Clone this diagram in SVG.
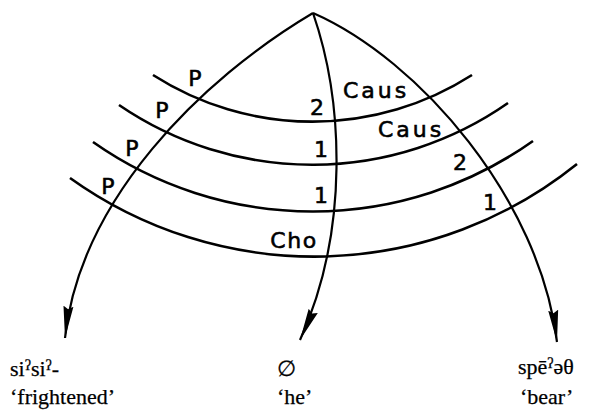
<svg xmlns="http://www.w3.org/2000/svg" width="590" height="410" viewBox="0 0 590 410">
<style>
.ln{fill:none;stroke:#000;stroke-width:2.2}
.arc{fill:none;stroke:#000;stroke-width:2.6}
.lab{font-family:"DejaVu Sans","Liberation Sans",sans-serif;font-size:22px;fill:#000;stroke:#000;stroke-width:0.6;text-anchor:middle}
.gl{font-family:"Liberation Serif","DejaVu Serif",serif;font-size:22px;fill:#000;stroke:#000;stroke-width:0.25}
.sup{font-size:14px;baseline-shift:45%}
</style>
<defs>
<marker id="ah" markerUnits="userSpaceOnUse" markerWidth="34" markerHeight="12" viewBox="0 -6 34 12" refX="32" refY="0" orient="auto">
<path d="M0,-5 L32,0 L0,5 L3,0 z" fill="#000"/>
</marker>
</defs>
<g id="connectors">
<path class="ln" d="M313,13 C200,80 80,200 65,338" marker-end="url(#ah)"/>
<path class="ln" d="M313,13 C343,100 350,230 300,340" marker-end="url(#ah)"/>
<path class="ln" d="M313,13 C420,60 540,200 557,342" marker-end="url(#ah)"/>
<path class="arc" d="M153,75 A296,296 0 0 0 472,75"/>
<path class="arc" d="M119,105 A342,342 0 0 0 508,103"/>
<path class="arc" d="M93,142 A381,381 0 0 0 533,141"/>
<path class="arc" d="M70,178 A419,419 0 0 0 577,164"/>
</g>
<g id="labels">
<text class="lab" x="195" y="86">P</text>
<text class="lab" x="162" y="118">P</text>
<text class="lab" x="132" y="156">P</text>
<text class="lab" x="108" y="194">P</text>
<text class="lab" x="317" y="115">2</text>
<text class="lab" x="376" y="98" letter-spacing="3">Caus</text>
<text class="lab" x="411" y="137" letter-spacing="3">Caus</text>
<text class="lab" x="321" y="157">1</text>
<text class="lab" x="460" y="170">2</text>
<text class="lab" x="321" y="203">1</text>
<text class="lab" x="490" y="210">1</text>
<text class="lab" x="294" y="248" letter-spacing="1.5">Cho</text>
</g>
<g id="node-left">
<text class="gl" x="10" y="376">si<tspan class="sup">ʔ</tspan>si<tspan class="sup">ʔ</tspan>-</text>
<text class="gl" x="10" y="404">‘frightened’</text>
</g>
<g id="node-mid">
<text class="gl" x="277" y="376">∅</text>
<text class="gl" x="277" y="404">‘he’</text>
</g>
<g id="node-right">
<text class="gl" x="518" y="374">spē<tspan class="sup">ʔ</tspan>əθ</text>
<text class="gl" x="520" y="404">‘bear’</text>
</g>
</svg>
